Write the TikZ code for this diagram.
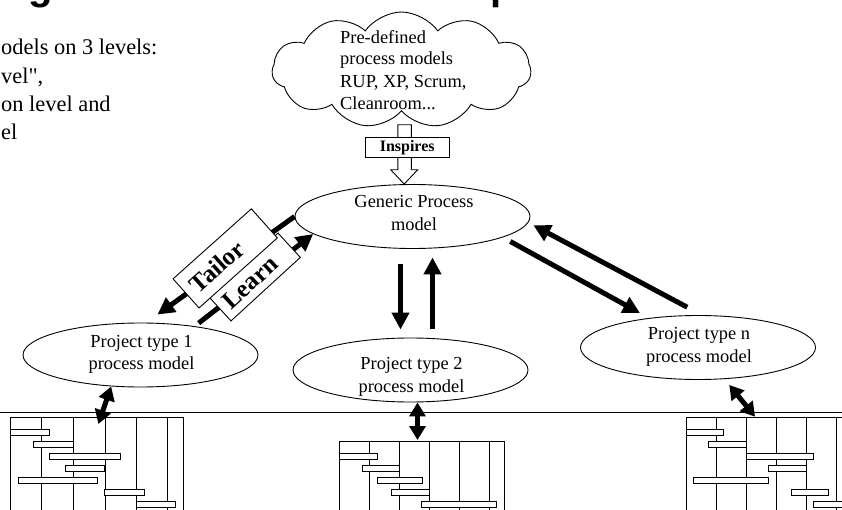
\documentclass[tikz,border=0pt]{standalone}
\usepackage{fontspec}
\setmainfont{Liberation Serif}
\newfontfamily\headsans{Liberation Sans}
\usetikzlibrary{arrows.meta,shapes.geometric,shapes.symbols}

\newcommand\straightquote{\XeTeXglyph\XeTeXglyphindex "quotedbl"\relax}

\tikzset{
  procmodel/.style={ellipse, draw, line width=0.9pt, minimum width=235pt, minimum height=64pt, inner sep=0pt},
  txt/.style={anchor=base, inner sep=0pt, font=\fontsize{18.4}{22}\selectfont},
  lefttxt/.style={anchor=base west, inner sep=0pt, font=\fontsize{22.4}{28}\selectfont},
  headglyph/.style={anchor=base west, inner sep=0pt, font=\headsans\bfseries\fontsize{40}{40}\selectfont},
  fatarrow/.style={line width=5pt, -{Triangle[length=17pt,width=17pt]}},
  dblarrow/.style={line width=5pt, {Triangle[length=14pt,width=16pt]}-{Triangle[length=14pt,width=16pt]}},
  rotbox/.style={draw, fill=white, line width=0.9pt, inner sep=0pt},
  rottxt/.style={inner sep=0pt, font=\bfseries\fontsize{25}{25}\selectfont},
  chartline/.style={line width=1pt},
  bar/.style={draw, fill=white, line width=1pt}
}

\begin{document}
\begin{tikzpicture}[x=1pt,y=-1pt]
\useasboundingbox (0,0) rectangle (842,510);
\clip (0,0) rectangle (842,510);

% heading letters cut by the top edge
\node[headglyph] (hg) at (28.4,0) {g};
\node[headglyph] (hp) at (490.4,0) {p};

% bullet text on the left
\node[lefttxt] (l1) at (1,55) {odels on 3 levels:};
\node[lefttxt] (l2) at (1,83.3) {vel\straightquote,};
\node[lefttxt] (l3) at (1,111.7) {on level and};
\node[lefttxt] (l4) at (1,140) {el};

% process model ellipses
\node[procmodel] (gen) at (412.5,216.5) {};
\node[procmodel] (pt1) at (140.5,355) {};
\node[procmodel] (pt2) at (410.5,370) {};
\node[procmodel] (ptn) at (698,347.5) {};

\node[txt] (gent1) at (414,207.3) {Generic Process};
\node[txt] (gent2) at (414,230.7) {model};
\node[txt] (pt1t1) at (141.5,347.3) {Project type 1};
\node[txt] (pt1t2) at (141.5,369) {process model};
\node[txt] (pt2t1) at (411.5,369.3) {Project type 2};
\node[txt] (pt2t2) at (411.5,392.7) {process model};
\node[txt] (ptnt1) at (699,339.3) {Project type n};
\node[txt] (ptnt2) at (699,362.7) {process model};

% hollow "inspires" arrow, its top tucked under the cloud
\draw[line width=0.9pt, fill=white] ([xshift=-8.3pt]gen.north) -- ++(-13.5,-14.3) -- ++(7.2,0) -- ++(0,-45)
  -- ++(13.4,0) -- ++(0,45) -- ++(6.4,0) -- cycle;

% cloud of predefined models
\node[cloud, draw, fill=white, line width=0.9pt, cloud puffs=11, cloud puff arc=110, cloud ignores aspect,
      minimum width=259pt, minimum height=116pt, inner sep=0pt] (cloud) at (401.5,70) {};
\node[txt, anchor=base west] (c1) at (340,43.3) {Pre-defined};
\node[txt, anchor=base west] (c2) at (340,65) {process models};
\node[txt, anchor=base west] (c3) at (340,87.3) {RUP, XP, Scrum,};
\node[txt, anchor=base west] (c4) at (340,110) {Cleanroom...};

\node[draw, fill=white, line width=0.9pt, minimum width=84.3pt, minimum height=20.4pt, inner sep=0pt,
      font=\bfseries\fontsize{16}{16}\selectfont] (insp) at (407.2,147.5) {Inspires};

% learn / tailor between generic model and type 1
\draw[fatarrow, shorten <=5pt] (pt1.28.8) -- (gen.190);
\node[rotbox, rotate=42.5, minimum width=94pt, minimum height=33pt] (learnbox) at (254.5,277) {};
\node[rottxt, rotate=42.5] (learntxt) at (250,282.3) {Learn};
\draw[fatarrow, shorten >=13.8pt] (gen.west) -- (pt1.80.6);
\node[rotbox, rotate=41.8, minimum width=105pt, minimum height=39pt] (tailorbox) at (225.2,258.4) {};
\node[rottxt, rotate=41.8] (tailortxt) at (216.7,266.7) {Tailor};

% generic model <-> type 2
\draw[fatarrow, shorten <=15pt, shorten >=8pt] ([xshift=-12pt]gen.south) -- ([xshift=-10pt]pt2.north);
\draw[fatarrow, shorten <=8.5pt, shorten >=8.5pt] ([xshift=22pt]pt2.north) -- ([xshift=20pt]gen.south);

% generic model <-> type n
\draw[fatarrow, shorten <=8.5pt, shorten >=10.2pt] (gen.-13.4) -- (ptn.149.7);
\draw[fatarrow, shorten <=16.7pt, shorten >=5.7pt] (ptn.83.85) -- (gen.-3.8);

% separator line
\draw[line width=1pt] (0,412.5) -- (842,412.5);

% project plans
\coordinate (g1hook) at (98.3,424);
\coordinate (g2hook) at (417.5,440);
\coordinate (g3hook) at (755,416.7);

% plan 1
\draw[chartline] (10.3,520) -- (10.3,417.3) -- (183.3,417.3) -- (183.3,520);
\foreach \x in {41.7,73.3,105,136.7,167.7} \draw[chartline] (\x,417.3) -- (\x,520);
\foreach \a/\b/\y in {10.3/49.3/429.7, 33.7/73/441.7, 49.3/120.3/453.3, 65.3/104.3/465.3,
                      18/97/477.3, 104.7/144.3/489.3, 136.3/175.7/501.3}
  \draw[bar] (\a,\y) rectangle (\b,\y+6);

% plan 2
\draw[chartline] (339.3,520) -- (339.3,441.7) -- (504,441.7) -- (504,520);
\foreach \x in {369.3,399.3,429.3,459.3,489.3} \draw[chartline] (\x,441.7) -- (\x,520);
\foreach \a/\b/\y in {339.3/377.3/453.3, 362/399/465.3, 377/422/477.3, 391.7/429/489.3, 421.7/496.7/501.3}
  \draw[bar] (\a,\y) rectangle (\b,\y+6);

% plan n
\draw[chartline] (686,520) -- (686,417.3) -- (851,417.3) -- (851,520);
\foreach \x in {716,746,776,806,836} \draw[chartline] (\x,417.3) -- (\x,520);
\foreach \a/\b/\y in {686/723.3/429.7, 708.7/746/441.7, 746/813.3/453.3, 768.7/806/465.3,
                      693.7/768.3/477.3, 791/828.3/489.3, 813.3/851/501.3}
  \draw[bar] (\a,\y) rectangle (\b,\y+6);

% models <-> plans
\draw[dblarrow] (pt1.227.8) -- (g1hook);
\draw[dblarrow] ([xshift=7pt]pt2.south) -- (g2hook);
\draw[dblarrow, shorten <=7.5pt] (ptn.310.9) -- (g3hook);
\end{tikzpicture}
\end{document}
